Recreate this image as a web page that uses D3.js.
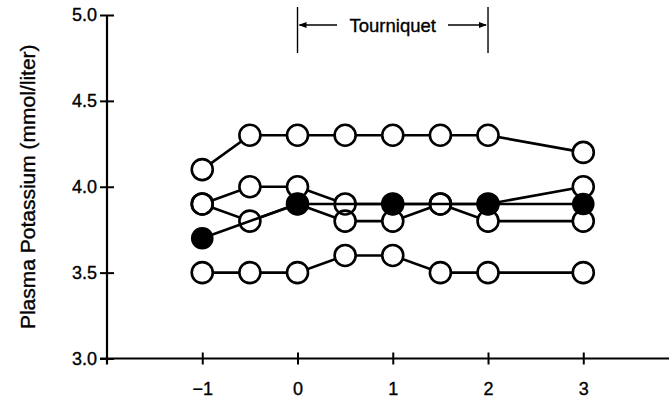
<!DOCTYPE html>
<html>
<head>
<meta charset="utf-8">
<script src="https://cdn.jsdelivr.net/npm/d3@7"></script>
<style>
  html, body { margin: 0; padding: 0; background: #fff; }
  svg { display: block; }
  text { font-family: "Liberation Sans", Arial, Helvetica, sans-serif; fill: #000; stroke: #000; stroke-width: 0.35px; }
</style>
</head>
<body>
<svg id="chart" width="669" height="400"></svg>
<script>
// ---- data ----
const timePoints = [-1, -0.5, 0, 0.5, 1, 1.5, 2, 3];
const seriesA = [4.1, 4.3, 4.3, 4.3, 4.3, 4.3, 4.3, 4.2];
const seriesB = [3.9, 4.0, 4.0, 3.9, 3.9, 3.9, 3.9, 4.0];
const seriesC = [3.9, 3.8, 3.9, 3.8, 3.8, 3.9, 3.8, 3.8];
const seriesD = [3.5, 3.5, 3.5, 3.6, 3.6, 3.5, 3.5, 3.5];
const filledTimes = [-1, 0, 1, 2, 3];
const filledValues = [3.7, 3.9, 3.9, 3.9, 3.9];
const yTicks = [3.0, 3.5, 4.0, 4.5, 5.0];
const xTicks = [-1, 0, 1, 2, 3];
const yLabel = "Plasma Potassium (mmol/liter)";
const tourniquetLabel = "Tourniquet";
const tourniquetRange = [0, 2];

// ---- scales ----
const svg = d3.select("#chart");
const x = d3.scaleLinear().domain([-2, 3.9]).range([107, 669]);
const y = d3.scaleLinear().domain([3, 5]).range([358.5, 15]);
const R = 10.5;

// ---- axes ----
const yAxis = d3.axisLeft(y).tickValues(yTicks).tickFormat(d3.format(".1f")).tickSize(7).tickPadding(3);
const gy = svg.append("g").attr("transform", `translate(${x(-2)},0)`).call(yAxis);
gy.select(".domain").remove();
gy.selectAll(".tick line").attr("x1", -7).attr("x2", 7).attr("stroke", "#000").attr("stroke-width", 2);
gy.selectAll(".tick text").style("font-size", "18px").attr("fill", "#000");
svg.append("line").attr("x1", x(-2)).attr("x2", x(-2)).attr("y1", y(3) + 6).attr("y2", y(5))
  .attr("stroke", "#000").attr("stroke-width", 2.2);

const xAxis = d3.axisBottom(x).tickValues(xTicks).tickFormat(d3.format("d")).tickSize(6).tickPadding(18);
const gx = svg.append("g").attr("transform", `translate(0,${y(3)})`).call(xAxis);
gx.select(".domain").remove();
gx.selectAll(".tick line").attr("y1", -6).attr("y2", 6).attr("stroke", "#000").attr("stroke-width", 2);
gx.selectAll(".tick text").style("font-size", "18px").attr("fill", "#000");
svg.append("line").attr("x1", x(-2) - 7).attr("x2", 669).attr("y1", y(3)).attr("y2", y(3))
  .attr("stroke", "#000").attr("stroke-width", 2.2);

// y label
svg.append("text")
  .attr("transform", `translate(35,${y(4)}) rotate(-90)`)
  .attr("text-anchor", "middle")
  .style("font-size", "21px")
  .text(yLabel);

// ---- tourniquet annotation ----
const ta = svg.append("g");
const tx0 = x(tourniquetRange[0]), tx1 = x(tourniquetRange[1]);
const ty = 25;
[tx0, tx1].forEach(v => ta.append("line").attr("x1", v).attr("x2", v).attr("y1", 7).attr("y2", 53)
  .attr("stroke", "#000").attr("stroke-width", 1.4));
ta.append("line").attr("x1", tx0 + 2).attr("x2", 337).attr("y1", ty).attr("y2", ty).attr("stroke", "#000").attr("stroke-width", 1.4);
ta.append("line").attr("x1", 448).attr("x2", tx1 - 2).attr("y1", ty).attr("y2", ty).attr("stroke", "#000").attr("stroke-width", 1.4);
ta.append("path").attr("d", `M${tx0 + 1},${ty} L${tx0 + 9},${ty - 3} L${tx0 + 9},${ty + 3} Z`).attr("fill", "#000");
ta.append("path").attr("d", `M${tx1 - 1},${ty} L${tx1 - 9},${ty - 3} L${tx1 - 9},${ty + 3} Z`).attr("fill", "#000");
ta.append("text").attr("x", x((tourniquetRange[0] + tourniquetRange[1]) / 2)).attr("y", ty)
  .attr("text-anchor", "middle").attr("dominant-baseline", "central")
  .style("font-size", "18.5px").text(tourniquetLabel);

// ---- data marks ----
const openSeries = [seriesA, seriesB, seriesC, seriesD].map(vals => vals.map((v, i) => ({t: timePoints[i], v})));
const filledSeries = filledValues.map((v, i) => ({t: filledTimes[i], v}));
const line = d3.line().x(d => x(d.t)).y(d => y(d.v));

const gLines = svg.append("g");
openSeries.forEach(s => gLines.append("path").attr("d", line(s)).attr("fill", "none")
  .attr("stroke", "#000").attr("stroke-width", 2.6));

const allOpen = openSeries.flat();
svg.append("g").selectAll("circle.fillw").data(allOpen).join("circle")
  .attr("cx", d => x(d.t)).attr("cy", d => y(d.v)).attr("r", R).attr("fill", "#fff").attr("stroke", "none");
svg.append("g").selectAll("circle.outline").data(allOpen).join("circle")
  .attr("cx", d => x(d.t)).attr("cy", d => y(d.v)).attr("r", R).attr("fill", "none")
  .attr("stroke", "#000").attr("stroke-width", 2.6);

svg.append("path").attr("d", line(filledSeries)).attr("fill", "none").attr("stroke", "#000").attr("stroke-width", 2.6);
svg.append("g").selectAll("circle").data(filledSeries).join("circle")
  .attr("cx", d => x(d.t)).attr("cy", d => y(d.v)).attr("r", R + 0.8).attr("fill", "#000");
</script>
</body>
</html>
